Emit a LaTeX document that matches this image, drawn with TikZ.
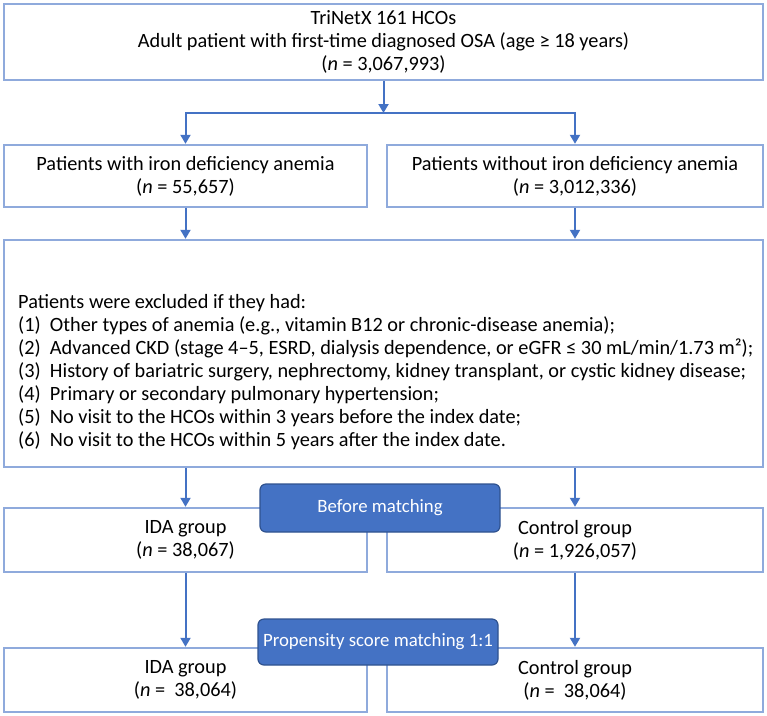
\documentclass[tikz,border=0pt]{standalone}
\usepackage{fontspec}
\setmainfont{Carlito}
\usepackage{tikz}
\usetikzlibrary{arrows.meta,calc}

\definecolor{boxline}{HTML}{8FAADC}
\definecolor{arrowblue}{HTML}{4472C4}
\definecolor{tagline}{HTML}{2F528F}

\tikzset{
  flowbox/.style={draw=boxline, line width=2.4pt, fill=white, inner sep=0pt,
    align=center, font=\fontsize{20.3}{23}\selectfont},
  tagbox/.style={draw=tagline, line width=1.2pt, fill=arrowblue, rounded corners=6pt,
    text=white, inner sep=0pt, align=center, font=\fontsize{18.8}{22}\selectfont},
  listtext/.style={inner sep=0pt, align=left, font=\fontsize{20.3}{23}\selectfont},
  arr/.style={draw=arrowblue, line width=2pt, -{Triangle[width=10pt,length=9pt]}},
  link/.style={draw=arrowblue, line width=2pt}
}

\begin{document}
\begin{tikzpicture}[x=1pt,y=-1pt]
\useasboundingbox (0,0) rectangle (767,715);

% cohort
\node[flowbox, minimum width=759pt, minimum height=76pt] (top) at (383.5,42)
  {TriNetX 161 HCOs\\Adult patient with first-time diagnosed OSA (age ≥ 18 years)\\(\textit{n} = 3,067,993)};

\node[flowbox, minimum width=363pt, minimum height=62pt] (ida0) at (185.5,176)
  {Patients with iron deficiency anemia\\(\textit{n} = 55,657)};
\node[flowbox, minimum width=376pt, minimum height=62pt] (non0) at (575,176)
  {Patients without iron deficiency anemia\\(\textit{n} = 3,012,336)};

% exclusion criteria
\node[flowbox, minimum width=759pt, minimum height=227pt] (excl) at (383.5,353.5) {};
\node[listtext, anchor=west] (crit) at (18,372)
  {Patients were excluded if they had:\\
   (1)\ \ Other types of anemia (e.g., vitamin B12 or chronic-disease anemia);\\
   (2)\ \ Advanced CKD (stage 4--5, ESRD, dialysis dependence, or eGFR ≤ 30 mL/min/1.73 m²);\\
   (3)\ \ History of bariatric surgery, nephrectomy, kidney transplant, or cystic kidney disease;\\
   (4)\ \ Primary or secondary pulmonary hypertension;\\
   (5)\ \ No visit to the HCOs within 3 years before the index date;\\
   (6)\ \ No visit to the HCOs within 5 years after the index date.};

% groups
\node[flowbox, minimum width=363pt, minimum height=64pt] (ida1) at (185.5,540)
  {IDA group\\(\textit{n} = 38,067)};
\node[flowbox, minimum width=376pt, minimum height=64pt] (ctl1) at (575,540)
  {Control group\\(\textit{n} = 1,926,057)};
\node[flowbox, minimum width=363pt, minimum height=64pt] (ida2) at (185.5,680)
  {IDA group\\(\textit{n} = \ 38,064)};
\node[flowbox, minimum width=376pt, minimum height=64pt] (ctl2) at (575,680)
  {Control group\\(\textit{n} = \ 38,064)};

% connectors
\coordinate (split) at (383.5,113);
\draw[arr] (top.south) -- (split);
\draw[arr] (split) -| (ida0.north);
\draw[arr] (split) -| (non0.north);
\draw[arr] (ida0.south) -- (ida0.south |- excl.north);
\draw[arr] (non0.south) -- (non0.south |- excl.north);
\draw[arr] (ida1.north |- excl.south) -- (ida1.north);
\draw[arr] (ctl1.north |- excl.south) -- (ctl1.north);
\draw[arr] (ida1.south) -- (ida2.north);
\draw[arr] (ctl1.south) -- (ctl2.north);

% matching tags
\node[tagbox, minimum width=240pt, minimum height=48pt] (before) at (380,508) {Before matching};
\node[tagbox, minimum width=240pt, minimum height=46pt] (psm) at (378,642) {Propensity score matching 1:1};
\end{tikzpicture}
\end{document}
